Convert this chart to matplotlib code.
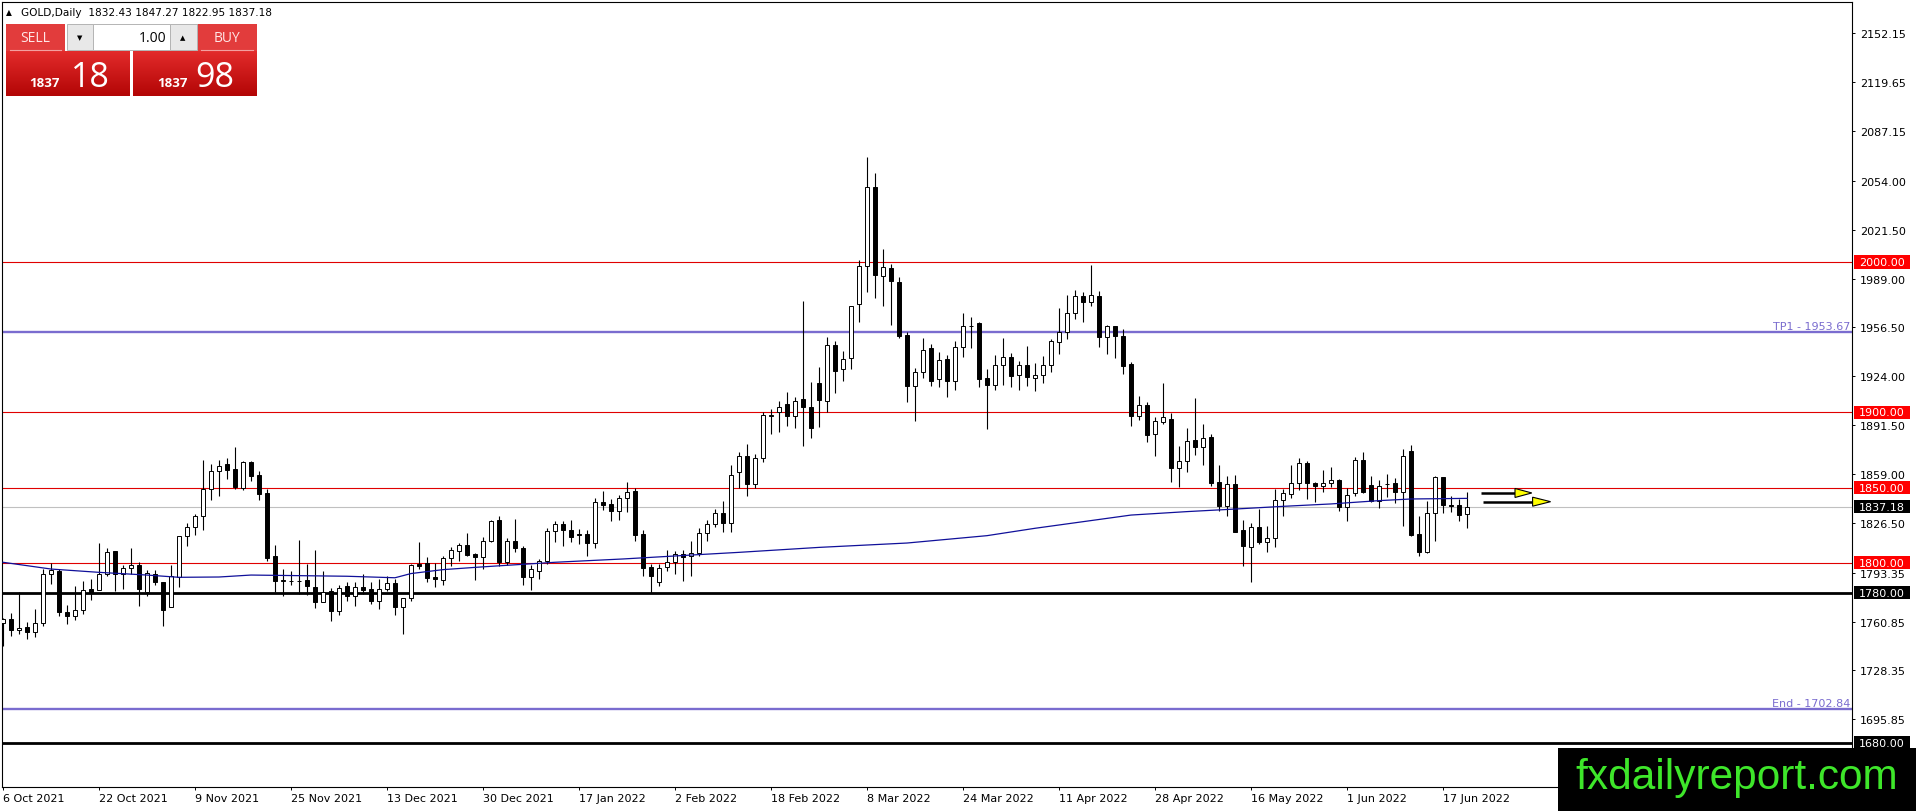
import numpy as np
import matplotlib.pyplot as plt
from matplotlib.patches import Rectangle
from matplotlib.transforms import blended_transform_factory

# daily candles, bar 0 = 6 Oct 2021
opens = [1760.0, 1762.6, 1755.0, 1757.0, 1753.7, 1759.7, 1792.3, 1794.7, 1767.4, 1764.3,
         1768.8, 1782.3, 1782.1, 1792.3, 1807.6, 1792.3, 1796.3, 1798.5, 1780.7, 1792.3,
         1787.0, 1770.3, 1790.7, 1818.0, 1823.5, 1831.3, 1848.8, 1861.2, 1865.7, 1862.3,
         1849.5, 1866.8, 1858.4, 1846.4, 1804.3, 1788.1, 1788.1, 1788.1, 1788.3, 1783.6,
         1774.1, 1781.4, 1768.1, 1784.3, 1778.1, 1783.6, 1782.5, 1774.8, 1782.5, 1786.3,
         1770.3, 1776.3, 1799.2, 1799.8, 1790.5, 1788.5, 1802.9, 1807.8, 1811.8, 1805.6,
         1804.0, 1814.7, 1828.4, 1800.7, 1814.7, 1809.6, 1790.3, 1794.3, 1801.2, 1820.9,
         1825.5, 1822.0, 1818.9, 1818.9, 1812.9, 1840.2, 1838.8, 1834.2, 1842.8, 1847.7,
         1818.9, 1797.2, 1787.4, 1796.9, 1800.7, 1805.8, 1804.3, 1806.5, 1819.8, 1825.8,
         1833.1, 1826.2, 1860.6, 1870.7, 1852.3, 1869.4, 1897.6, 1900.0, 1905.6, 1897.8,
         1908.9, 1903.3, 1919.3, 1907.8, 1944.8, 1928.8, 1935.9, 1971.9, 1997.1, 2049.7,
         1990.5, 1995.8, 1986.9, 1951.5, 1917.8, 1926.6, 1942.6, 1922.2, 1935.5, 1921.1,
         1943.3, 1957.7, 1959.4, 1922.6, 1918.4, 1931.7, 1936.6, 1924.9, 1931.7, 1923.1,
         1924.9, 1931.5, 1946.6, 1953.2, 1966.1, 1977.2, 1973.2, 1977.6, 1949.9, 1957.2,
         1950.6, 1932.2, 1897.4, 1904.9, 1885.6, 1893.8, 1895.6, 1862.8, 1867.4, 1881.4,
         1876.7, 1883.4, 1853.5, 1837.5, 1852.4, 1821.8, 1810.2, 1823.8, 1814.0, 1816.2,
         1841.7, 1845.7, 1852.8, 1866.3, 1853.0, 1850.8, 1852.8, 1855.0, 1836.8, 1846.2,
         1868.1, 1851.7, 1841.1, 1852.6, 1853.0, 1847.3, 1874.1, 1819.1, 1807.3, 1832.8,
         1856.8, 1838.4, 1838.4, 1832.43]
highs = [1763.0, 1766.6, 1780.3, 1760.3, 1769.2, 1795.8, 1799.8, 1795.8, 1771.9, 1784.3,
         1787.6, 1789.2, 1813.1, 1809.8, 1807.6, 1798.7, 1809.8, 1800.7, 1795.2, 1795.4,
         1787.4, 1798.5, 1818.0, 1826.4, 1832.4, 1868.3, 1865.7, 1868.1, 1869.4, 1877.0,
         1867.7, 1867.9, 1861.2, 1849.0, 1811.8, 1795.8, 1794.5, 1815.1, 1799.2, 1808.5,
         1794.5, 1783.0, 1785.2, 1787.0, 1787.0, 1792.5, 1787.0, 1789.2, 1791.4, 1789.2,
         1776.8, 1799.2, 1814.0, 1803.6, 1799.8, 1804.3, 1810.2, 1813.1, 1819.8, 1806.5,
         1816.9, 1828.7, 1831.3, 1816.2, 1829.1, 1810.9, 1798.5, 1802.5, 1822.9, 1827.8,
         1827.8, 1828.6, 1822.4, 1822.0, 1842.8, 1847.7, 1842.4, 1845.1, 1853.9, 1849.5,
         1822.0, 1799.2, 1799.2, 1808.7, 1808.0, 1808.7, 1814.5, 1822.9, 1828.6, 1835.7,
         1841.3, 1865.0, 1873.4, 1878.9, 1872.3, 1900.5, 1902.2, 1907.8, 1913.3, 1910.0,
         1973.8, 1920.4, 1930.4, 1949.9, 1947.7, 1941.0, 1971.0, 2001.6, 2069.6, 2059.2,
         2008.7, 1998.7, 1989.8, 1953.7, 1929.3, 1949.2, 1945.5, 1940.0, 1938.2, 1947.7,
         1966.1, 1963.2, 1959.9, 1928.9, 1938.2, 1949.5, 1939.5, 1934.4, 1943.9, 1932.8,
         1937.7, 1948.8, 1969.4, 1978.1, 1981.4, 1980.3, 1998.0, 1981.0, 1958.1, 1957.7,
         1955.5, 1933.7, 1911.1, 1906.7, 1896.7, 1919.5, 1899.6, 1877.9, 1889.4, 1909.3,
         1892.3, 1885.6, 1865.0, 1857.9, 1858.3, 1828.6, 1826.4, 1835.7, 1824.6, 1849.0,
         1849.0, 1865.0, 1869.4, 1867.9, 1853.5, 1861.9, 1863.4, 1855.7, 1849.5, 1870.1,
         1873.9, 1857.5, 1855.2, 1859.0, 1856.1, 1875.6, 1878.3, 1831.3, 1841.3, 1857.9,
         1857.2, 1844.6, 1842.4, 1847.27]
lows = [1744.8, 1751.5, 1752.6, 1749.3, 1750.4, 1757.7, 1786.1, 1764.3, 1759.5, 1762.1,
        1765.9, 1775.4, 1782.1, 1791.4, 1781.0, 1782.5, 1792.5, 1771.4, 1778.1, 1785.4,
        1758.1, 1770.3, 1784.1, 1811.3, 1818.4, 1821.8, 1841.9, 1844.6, 1855.7, 1849.0,
        1848.6, 1854.6, 1841.9, 1801.4, 1780.8, 1778.1, 1785.2, 1779.2, 1778.5, 1769.7,
        1773.7, 1761.5, 1765.2, 1774.8, 1771.4, 1779.2, 1772.5, 1769.2, 1781.4, 1765.2,
        1752.6, 1774.8, 1795.8, 1787.4, 1784.1, 1785.2, 1798.1, 1801.4, 1804.3, 1788.7,
        1795.8, 1814.0, 1797.6, 1798.5, 1807.4, 1785.2, 1782.1, 1789.2, 1799.2, 1814.0,
        1811.4, 1814.0, 1812.5, 1804.7, 1809.6, 1835.3, 1828.0, 1828.6, 1834.0, 1814.7,
        1791.4, 1779.9, 1784.7, 1794.7, 1792.5, 1788.1, 1791.4, 1804.7, 1814.7, 1823.5,
        1820.7, 1820.2, 1850.0, 1844.1, 1849.5, 1867.2, 1885.6, 1887.2, 1890.7, 1889.4,
        1877.4, 1882.7, 1890.0, 1900.5, 1912.9, 1921.1, 1928.8, 1960.3, 1980.3, 1975.8,
        1970.5, 1958.1, 1949.2, 1906.7, 1894.5, 1922.6, 1917.3, 1916.6, 1910.0, 1915.1,
        1936.6, 1942.6, 1916.6, 1888.9, 1915.1, 1918.2, 1916.7, 1915.1, 1917.3, 1914.4,
        1919.5, 1927.1, 1938.8, 1948.8, 1962.1, 1959.9, 1970.5, 1943.3, 1938.8, 1935.9,
        1925.5, 1890.7, 1895.2, 1880.5, 1871.2, 1892.3, 1853.9, 1850.1, 1860.6, 1871.6,
        1865.0, 1851.2, 1834.6, 1831.3, 1820.2, 1798.0, 1786.9, 1812.4, 1806.9, 1810.2,
        1831.3, 1842.8, 1848.6, 1842.4, 1840.2, 1846.8, 1850.1, 1834.2, 1828.0, 1844.6,
        1846.4, 1840.2, 1836.2, 1843.9, 1839.7, 1824.6, 1817.5, 1804.7, 1806.5, 1814.7,
        1833.1, 1834.0, 1828.0, 1822.95]
closes = [1762.6, 1755.0, 1756.4, 1753.7, 1759.7, 1792.5, 1795.2, 1767.0, 1764.3, 1768.8,
          1781.6, 1780.7, 1792.5, 1806.9, 1792.5, 1796.3, 1798.5, 1782.7, 1793.2, 1787.4,
          1768.8, 1791.4, 1817.6, 1823.5, 1831.3, 1848.8, 1861.2, 1864.1, 1861.9, 1850.1,
          1866.8, 1857.9, 1845.7, 1802.9, 1788.1, 1788.3, 1788.1, 1787.9, 1784.3, 1774.1,
          1780.3, 1768.1, 1783.0, 1778.1, 1783.6, 1782.1, 1774.8, 1782.5, 1786.3, 1770.3,
          1776.3, 1798.5, 1797.6, 1790.1, 1789.2, 1802.9, 1808.5, 1811.8, 1805.1, 1804.0,
          1814.2, 1828.0, 1800.3, 1814.7, 1809.6, 1790.3, 1795.8, 1801.2, 1820.9, 1825.5,
          1822.0, 1817.3, 1818.4, 1812.9, 1840.2, 1838.6, 1834.2, 1842.8, 1847.3, 1818.4,
          1796.7, 1791.0, 1796.3, 1800.7, 1805.8, 1804.0, 1806.5, 1819.8, 1825.8, 1833.1,
          1826.2, 1858.4, 1870.7, 1852.3, 1869.4, 1898.2, 1898.0, 1903.3, 1897.8, 1907.8,
          1903.3, 1889.4, 1908.4, 1944.8, 1927.7, 1935.5, 1970.5, 1997.1, 2049.7, 1991.4,
          1996.5, 1987.6, 1950.6, 1917.3, 1926.6, 1941.7, 1921.1, 1935.0, 1921.1, 1943.3,
          1957.2, 1957.2, 1922.2, 1918.2, 1931.7, 1936.6, 1924.4, 1931.7, 1923.3, 1924.9,
          1931.5, 1947.3, 1953.2, 1966.1, 1977.2, 1973.2, 1978.3, 1949.9, 1957.2, 1950.6,
          1931.1, 1897.4, 1904.9, 1885.2, 1894.5, 1896.7, 1862.8, 1867.4, 1880.7, 1876.7,
          1882.7, 1853.0, 1837.9, 1852.1, 1820.6, 1811.3, 1823.5, 1814.0, 1816.2, 1841.7,
          1846.2, 1852.8, 1866.3, 1852.8, 1850.8, 1852.8, 1855.0, 1836.8, 1845.3, 1868.1,
          1846.8, 1841.1, 1851.3, 1852.1, 1847.3, 1870.8, 1818.4, 1807.3, 1832.8, 1856.8,
          1838.6, 1837.5, 1831.9, 1837.18]

# moving average (bar index, price)
ma_bars = [0, 6, 12, 18, 22, 27, 31, 43, 49, 51, 55, 59, 61, 69, 77.5, 86, 92, 102,
           113, 123, 129, 135, 141, 148, 154, 160, 166, 172, 176, 183]
ma_vals = [1800.3, 1795.8, 1793.6, 1791.8, 1790.3, 1790.5, 1791.8, 1791.0, 1790.0, 1792.8,
           1795.4, 1796.9, 1797.6, 1800.3, 1802.5, 1805.1, 1806.9, 1810.2, 1813.1, 1818.0,
           1822.9, 1827.3, 1831.7, 1834.0, 1835.7, 1837.5, 1839.1, 1841.3, 1842.4, 1842.8]

date_bars = [0, 12, 24, 36, 48, 60, 72, 84, 96, 108, 120, 132, 144, 156, 168, 180]
date_labels = ['6 Oct 2021', '22 Oct 2021', '9 Nov 2021', '25 Nov 2021', '13 Dec 2021',
               '30 Dec 2021', '17 Jan 2022', '2 Feb 2022', '18 Feb 2022', '8 Mar 2022',
               '24 Mar 2022', '11 Apr 2022', '28 Apr 2022', '16 May 2022', '1 Jun 2022',
               '17 Jun 2022']
price_ticks = [2152.15, 2119.65, 2087.15, 2054.00, 2021.50, 1989.00, 1956.50, 1924.00,
               1891.50, 1859.00, 1826.50, 1793.35, 1760.85, 1728.35, 1695.85]

red_levels = [2000.0, 1900.0, 1850.0, 1800.0]
black_levels = [1780.0, 1680.0]
target_levels = [1953.67, 1702.84]
target_names = ['TP1', 'End']
bid = 1837.18

# W, H in px
W, H = 1916, 812
fig = plt.figure(figsize=(W / 100, H / 100), dpi=100)
ax = fig.add_axes([2 / W, 24 / H, 1850 / W, 785 / H])

x = np.arange(len(opens))
o = np.array(opens)
c = np.array(closes)

ax.vlines(x, lows, highs, color='black', lw=0.8, zorder=3)
up = c >= o
ax.bar(x, np.abs(c - o), bottom=np.minimum(o, c), width=0.6,
       color=np.where(up, 'white', 'black'), edgecolor='black', linewidth=0.7, zorder=4)

ax.plot(ma_bars, ma_vals, color='#10109a', lw=0.9, zorder=5)

for lv in red_levels:
    ax.axhline(lv, color='#e00000', lw=0.8, zorder=2)
for lv in black_levels:
    ax.axhline(lv, color='black', lw=2.0, zorder=2)
for lv in target_levels:
    ax.axhline(lv, color='#7a6ccf', lw=1.7, zorder=2)
ax.axhline(bid, color='#c0c0c0', lw=0.8, zorder=1)

ax.set_xlim(-0.125, 231.125)
ax.set_ylim(1650.82, 2172.97)

ax.set_xticks(date_bars)
ax.set_xticklabels(date_labels, ha='left')
ax.set_yticks(price_ticks)
ax.set_yticklabels([f'{v:.2f}' for v in price_ticks])
ax.yaxis.tick_right()
ax.tick_params(axis='y', direction='out', length=2.5, width=0.7, pad=3, labelsize=8)
ax.tick_params(axis='x', direction='out', length=2.5, width=0.7, pad=2, labelsize=8)
for s in ax.spines.values():
    s.set_linewidth(0.8)

# price boxes on the right scale
tr = blended_transform_factory(ax.transAxes, ax.transData)
box_h = 13.3 / 1.5034
def price_box(v, fc):
    ax.add_patch(Rectangle((1.0011, v - box_h / 2), 0.0303, box_h, transform=tr,
                           facecolor=fc, edgecolor='none', clip_on=False, zorder=20))
    ax.text(1.0038, v, f'{v:.2f}', transform=tr, color='white', fontsize=8,
            va='center', ha='left', clip_on=False, zorder=21)

for lv in red_levels:
    price_box(lv, '#ff0000')
for lv in black_levels:
    price_box(lv, 'black')
price_box(bid, 'black')

for name, lv in zip(target_names, target_levels):
    ax.annotate(f'{name} - {lv:.2f}', xy=(0.9989, lv), xycoords=tr,
                xytext=(0, 2.2), textcoords='offset points', ha='right', va='baseline',
                color='#7a6ccf', fontsize=8, zorder=6)

# forecast arrows
arrows = [(184.75, 189.0, 191.1, 1846.4), (184.96, 191.2, 193.45, 1840.6)]
for x0, x1, x2, p in arrows:
    ax.plot([x0, x1], [p, p], color='black', lw=1.8, solid_capstyle='butt', zorder=6)
    ax.fill([x1, x1, x2], [p + 3.0, p - 3.0, p], facecolor='#ffff00', edgecolor='black',
            lw=0.8, zorder=7)

# overlay in pixel coordinates for header, trade panel and watermark
ov = fig.add_axes([0, 0, 1, 1], zorder=10)
ov.set_xlim(0, W)
ov.set_ylim(H, 0)
ov.axis('off')
ov.patch.set_alpha(0)

ov.text(6, 13, '▲', fontsize=5.5, va='center', ha='left')
ov.text(21, 13, 'GOLD,Daily  1832.43 1847.27 1822.95 1837.18', fontsize=7.6,
        va='center', ha='left')

grad = np.linspace(0, 1, 64).reshape(-1, 1)
top_col = np.array([0.89, 0.17, 0.17])
bot_col = np.array([0.70, 0.02, 0.02])
img = top_col[None, None, :] * (1 - grad[:, :, None]) + bot_col[None, None, :] * grad[:, :, None]
for bx0, bx1 in [(6, 130), (133, 257)]:
    ov.imshow(img, extent=(bx0, bx1, 97, 52), aspect='auto', zorder=1, interpolation='bilinear')
for bx0, bx1, lab in [(6, 65, 'SELL'), (197, 257, 'BUY')]:
    ov.add_patch(Rectangle((bx0, 25), bx1 - bx0, 27, facecolor='#e23c3c', edgecolor='none', zorder=1))
    ov.plot([bx0 + 4, bx1 - 4], [51, 51], color='#f3a0a0', lw=0.8, zorder=2)
    ov.text((bx0 + bx1) / 2, 39, lab, color='#ffe6e6', fontsize=10, family='Open Sans',
            ha='center', va='center', zorder=3)
ov.add_patch(Rectangle((67, 25), 26, 26, facecolor='#e8e8e8', edgecolor='#b4b4b4', lw=0.7, zorder=1))
ov.add_patch(Rectangle((93, 25), 77, 26, facecolor='white', edgecolor='#b4b4b4', lw=0.7, zorder=1))
ov.add_patch(Rectangle((170, 25), 27, 26, facecolor='#e8e8e8', edgecolor='#b4b4b4', lw=0.7, zorder=1))
ov.text(80, 38, '▼', fontsize=5, ha='center', va='center', zorder=3)
ov.text(183, 38, '▲', fontsize=5, ha='center', va='center', zorder=3)
ov.text(166, 38, '1.00', fontsize=10, family='Open Sans', ha='right', va='center', zorder=3)
for sx, bx in [(29, 71), (157, 195)]:
    ov.text(sx, 87, '1837', color='white', fontsize=9.5, fontweight='bold',
            family='Open Sans', ha='left', va='baseline', zorder=3)
ov.text(71, 87, '18', color='white', fontsize=24.5, family='Open Sans',
        ha='left', va='baseline', zorder=3)
ov.text(195, 87, '98', color='white', fontsize=24.5, family='Open Sans',
        ha='left', va='baseline', zorder=3)

ov.add_patch(Rectangle((1558, 749), W - 1558, H - 749, facecolor='black', edgecolor='none', zorder=5))
ov.text(1737, 789, 'fxdailyreport.com', color='#3ee62a', fontsize=30.5,
        family='Liberation Sans', ha='center', va='baseline', zorder=6)

fig.savefig('out.png', dpi=100)
